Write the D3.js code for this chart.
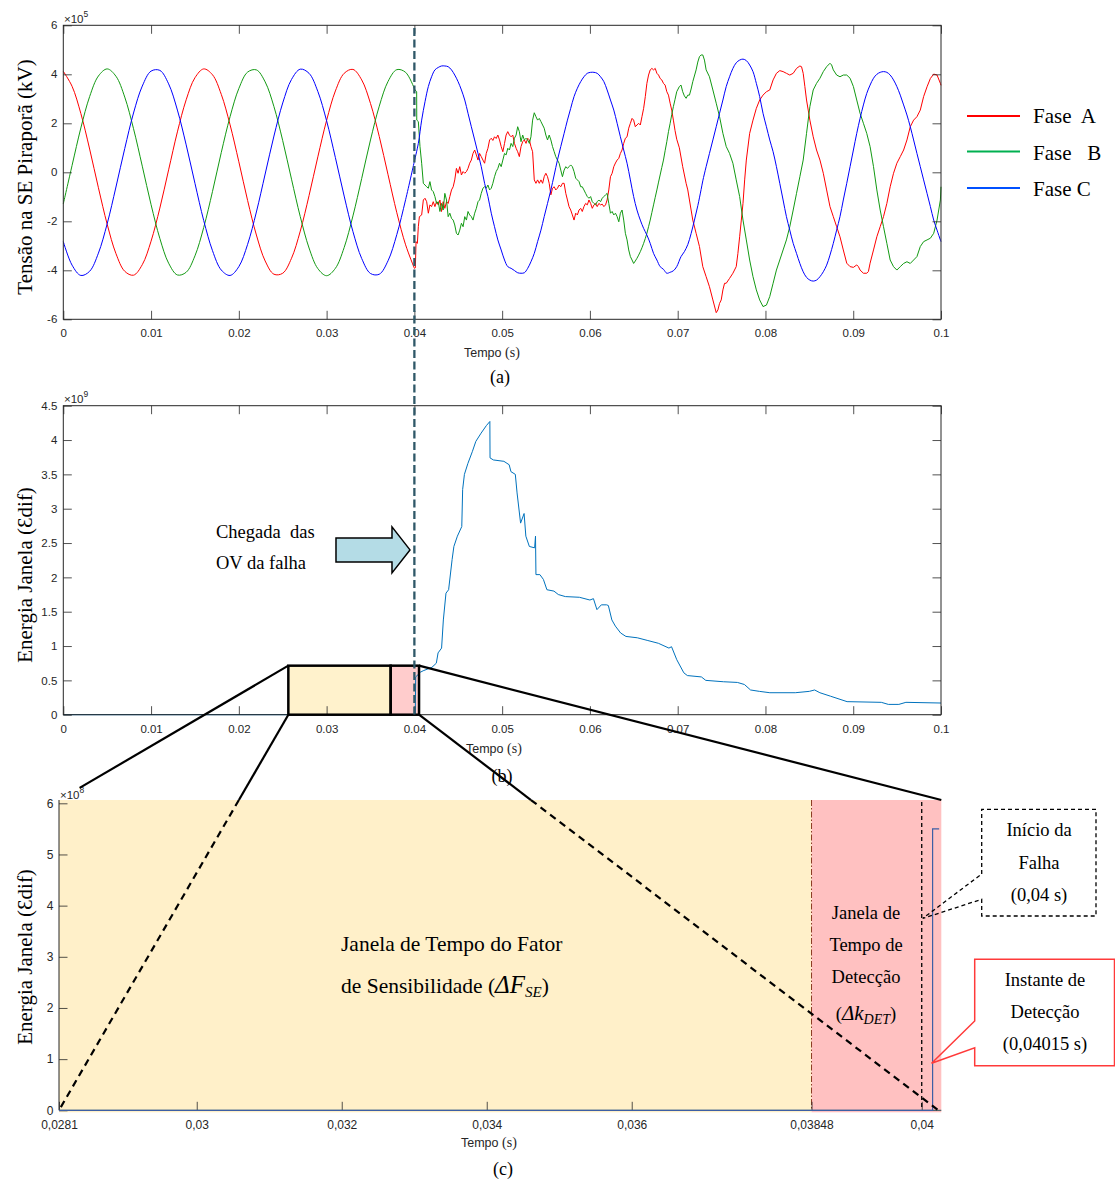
<!DOCTYPE html>
<html>
<head>
<meta charset="utf-8">
<script src="https://cdn.jsdelivr.net/npm/d3@7"></script>
<style>
  body { margin: 0; background: #fff; }
  svg { display: block; }
  text { white-space: pre; }
</style>
</head>
<body>
<svg id="fig" width="1115" height="1183"></svg>
<script>
// ---------- (a) Tensões de fase na SE Piraporã (×10^5) ----------
// regime pré-falta, amostras a cada 1 ms
const tempoPreMs = [0,1,2,3,4,5,6,7,8,9,10,11,12,13,14,15,16,17,18,19,20,21,22,23,24,25,26,27,28,29,30,31,32,33,34,35,36,37,38,39,40];
const faseAPre = [4.12,3.51,2.40,0.95,-0.63,-2.12,-3.32,-4.04,-4.20,-3.77,-2.81,-1.46,0.10,1.65,2.96,3.86,4.22,3.98,3.18,1.94,0.43,-1.15,-2.56,-3.62,-4.16,-4.12,-3.51,-2.40,-0.95,0.63,2.12,3.32,4.04,4.20,3.77,2.81,1.46,-0.10,-1.65,-2.96,-3.92];
const faseBPre = [-1.29,0.28,1.81,3.09,3.93,4.22,3.92,3.07,1.78,0.25,-1.32,-2.70,-3.71,-4.19,-4.08,-3.41,-2.25,-0.78,0.81,2.27,3.42,4.09,4.18,3.69,2.68,1.29,-0.28,-1.81,-3.09,-3.93,-4.22,-3.92,-3.07,-1.78,-0.25,1.32,2.70,3.71,4.19,4.08,3.41];
const faseCPre = [-2.83,-3.79,-4.21,-4.04,-3.30,-2.10,-0.60,0.97,2.42,3.52,4.13,4.16,3.61,2.54,1.12,-0.45,-1.97,-3.20,-3.99,-4.21,-3.85,-2.94,-1.62,-0.07,1.48,2.83,3.79,4.21,4.04,3.30,2.10,0.60,-0.97,-2.42,-3.52,-4.13,-4.16,-3.61,-2.54,-1.12,0.45];

// pós-falta: [tempo (s), tensão]
const faseAPos = [[0.04,-3.92],[0.04011,-3.9],[0.04019,-2.83],[0.04034,-2.9],[0.04045,-2.22],[0.04057,-1.81],[0.04083,-1.74],[0.04102,-1.13],[0.04121,-1.06],[0.0414,-1.2],[0.04159,-1.67],[0.04177,-1.33],[0.04196,-1.4],[0.04215,-1.2],[0.04234,-1.4],[0.04253,-1.2],[0.04272,-1.33],[0.04291,-1.13],[0.04309,-1.6],[0.04328,-1.2],[0.04347,-1.47],[0.04366,-1.2],[0.04385,-1.27],[0.04404,-0.99],[0.04423,-0.72],[0.04442,-0.59],[0.0446,-0.31],[0.04479,0.16],[0.04498,-0.04],[0.04517,0.23],[0.04536,-0.11],[0.04555,0.03],[0.04574,-0.04],[0.04593,0.03],[0.04611,0.16],[0.0463,0.37],[0.04649,0.5],[0.04668,0.77],[0.04687,0.91],[0.04706,0.71],[0.04725,0.5],[0.04743,0.77],[0.04762,0.64],[0.04781,0.5],[0.048,0.37],[0.04819,0.77],[0.04838,0.98],[0.04857,1.32],[0.04876,1.39],[0.04894,1.3],[0.04913,1.45],[0.04932,1.38],[0.04951,1.52],[0.0497,1.32],[0.04989,1.05],[0.05008,0.84],[0.05027,1.18],[0.05045,1.52],[0.05064,1.66],[0.05083,1.52],[0.05102,1.45],[0.05121,1.52],[0.0514,1.18],[0.05159,0.98],[0.05177,0.84],[0.05196,0.64],[0.05215,1.05],[0.05234,1.25],[0.05253,1.32],[0.05272,1.18],[0.05291,1.39],[0.0531,1.32],[0.05328,1.05],[0.05347,0.84],[0.05366,-0.31],[0.05385,-0.45],[0.05404,-0.31],[0.05423,-0.45],[0.05442,-0.31],[0.05461,-0.45],[0.05479,-0.18],[0.05498,-0.04],[0.05517,-0.18],[0.05536,-0.45],[0.05555,-0.92],[0.05574,-0.65],[0.05593,-0.59],[0.05611,-0.72],[0.0563,-0.65],[0.05649,-0.52],[0.05668,-0.59],[0.05687,-0.45],[0.05706,-0.45],[0.05725,-0.86],[0.05744,-1.13],[0.05762,-1.4],[0.05781,-1.54],[0.058,-1.74],[0.05819,-1.95],[0.05838,-1.67],[0.05857,-1.74],[0.05876,-1.54],[0.05895,-1.47],[0.05913,-1.6],[0.05932,-1.4],[0.05951,-1.27],[0.0597,-1.33],[0.05989,-1.13],[0.06008,-1.27],[0.06027,-1.47],[0.06046,-1.33],[0.06064,-1.27],[0.06083,-1.4],[0.06102,-1.27],[0.06121,-1.33],[0.0614,-1.3],[0.06159,-1.4],[0.06178,-1.33],[0.06196,-1.13],[0.06215,-0.72],[0.06234,-0.18],[0.06253,-0.04],[0.06272,0.23],[0.06291,0.38],[0.0631,0.5],[0.06329,0.57],[0.06347,0.77],[0.06366,0.91],[0.06385,1.18],[0.06404,1.39],[0.06423,1.45],[0.06442,1.8],[0.06461,2.0],[0.0648,2.2],[0.06498,2.13],[0.06517,1.86],[0.06536,1.93],[0.06555,2.0],[0.06574,1.93],[0.06593,2.27],[0.06612,2.61],[0.06631,3.09],[0.06649,3.63],[0.06668,3.97],[0.06687,4.18],[0.06706,4.24],[0.06725,4.18],[0.06744,4.24],[0.06763,4.04],[0.06782,3.97],[0.068,3.83],[0.06819,3.77],[0.06838,3.63],[0.06857,3.56],[0.06876,3.29],[0.06895,3.15],[0.06914,2.82],[0.06932,2.54],[0.06951,2.13],[0.0697,1.7],[0.06989,1.35],[0.07019,1.0],[0.07057,0.23],[0.07096,-0.45],[0.07115,-0.72],[0.07134,-1.13],[0.07153,-1.54],[0.07172,-1.95],[0.0721,-2.49],[0.07248,-3.03],[0.07286,-3.85],[0.07324,-4.26],[0.07362,-4.67],[0.07401,-5.21],[0.07439,-5.73],[0.07458,-5.62],[0.07477,-5.35],[0.07496,-5.21],[0.07515,-4.8],[0.07534,-4.53],[0.07553,-4.53],[0.07591,-4.33],[0.07629,-4.12],[0.07667,-3.85],[0.07686,-3.31],[0.07706,-2.63],[0.07725,-1.95],[0.07744,-1.27],[0.07763,-0.31],[0.07782,0.5],[0.0782,1.59],[0.07858,2.13],[0.07896,2.61],[0.07934,2.95],[0.07972,3.15],[0.08011,3.29],[0.08049,3.36],[0.08087,3.77],[0.08125,4.04],[0.08163,4.15],[0.08201,4.11],[0.08239,4.04],[0.08277,3.97],[0.08316,4.04],[0.08354,4.24],[0.08392,4.34],[0.08411,4.31],[0.0843,4.04],[0.08449,3.5],[0.08468,2.95],[0.08487,2.54],[0.08506,2.13],[0.08544,1.45],[0.08582,0.91],[0.08621,0.5],[0.08659,-0.04],[0.08697,-0.72],[0.08735,-1.4],[0.08773,-1.81],[0.08811,-2.22],[0.08849,-2.63],[0.08887,-3.17],[0.08926,-3.71],[0.08964,-3.85],[0.09002,-3.88],[0.0904,-3.78],[0.09059,-3.85],[0.09078,-3.99],[0.09116,-4.12],[0.09154,-4.12],[0.09173,-4.05],[0.09192,-3.71],[0.09231,-3.17],[0.09269,-2.63],[0.09307,-2.22],[0.09345,-1.81],[0.09383,-1.27],[0.09421,-0.59],[0.09459,-0.04],[0.09497,0.37],[0.09536,0.64],[0.09574,0.91],[0.09612,1.32],[0.0965,1.86],[0.09688,2.13],[0.09726,2.27],[0.09764,2.54],[0.09802,3.09],[0.09841,3.49],[0.09879,3.83],[0.09917,4.01],[0.09955,3.97],[0.09993,3.63],[0.1,3.55]];

const faseBPos = [[0.04,3.41],[0.04008,3.36],[0.04026,3.29],[0.04027,2.13],[0.04045,2.07],[0.04064,1.05],[0.04083,0.37],[0.04102,-0.45],[0.04121,-0.52],[0.0414,-0.59],[0.04159,-0.65],[0.04177,-0.38],[0.04196,-0.72],[0.04215,-0.79],[0.04234,-0.99],[0.04253,-1.27],[0.04272,-1.2],[0.04291,-1.6],[0.04309,-1.27],[0.04328,-1.54],[0.04347,-0.86],[0.04366,-1.13],[0.04385,-1.81],[0.04404,-1.67],[0.04423,-1.88],[0.04442,-1.95],[0.0446,-2.15],[0.04479,-2.49],[0.04498,-2.56],[0.04517,-2.36],[0.04536,-2.08],[0.04555,-2.22],[0.04574,-1.81],[0.04593,-1.95],[0.04611,-1.6],[0.0463,-1.74],[0.04649,-1.81],[0.04668,-1.95],[0.04687,-1.67],[0.04706,-1.47],[0.04725,-1.2],[0.04743,-1.13],[0.04762,-0.86],[0.04781,-0.65],[0.048,-0.59],[0.04819,-0.65],[0.04838,-0.52],[0.04857,-0.72],[0.04876,-0.65],[0.04894,-0.45],[0.04913,-0.18],[0.04932,0.03],[0.04951,0.16],[0.0497,0.37],[0.04989,0.23],[0.05008,0.5],[0.05027,0.77],[0.05045,0.71],[0.05064,0.98],[0.05083,0.91],[0.05102,1.18],[0.05121,1.05],[0.0514,1.39],[0.05159,1.52],[0.05177,1.86],[0.05196,1.66],[0.05215,1.25],[0.05234,1.52],[0.05253,1.32],[0.05272,1.39],[0.05291,1.32],[0.0531,1.18],[0.05328,1.45],[0.05347,2.13],[0.05366,2.43],[0.05385,2.27],[0.05404,2.13],[0.05423,2.2],[0.05442,2.07],[0.05461,1.93],[0.05479,1.8],[0.05498,1.52],[0.05517,1.32],[0.05536,1.52],[0.05555,1.32],[0.05574,1.05],[0.05593,0.84],[0.05611,0.64],[0.0563,0.5],[0.05649,0.37],[0.05668,0.09],[0.05687,-0.18],[0.05706,0.09],[0.05725,0.23],[0.05744,0.16],[0.05762,0.23],[0.05781,0.3],[0.058,0.23],[0.05819,0.03],[0.05838,-0.24],[0.05857,-0.31],[0.05876,-0.38],[0.05895,-0.59],[0.05913,-0.59],[0.05932,-0.72],[0.05951,-0.86],[0.0597,-0.99],[0.05989,-1.06],[0.06008,-0.99],[0.06027,-1.2],[0.06046,-1.27],[0.06064,-1.33],[0.06083,-1.2],[0.06102,-1.13],[0.06121,-1.2],[0.0614,-1.06],[0.06159,-0.99],[0.06178,-0.92],[0.06196,-0.86],[0.06215,-1.27],[0.06234,-1.67],[0.06253,-1.6],[0.06272,-1.74],[0.06291,-1.67],[0.0631,-1.81],[0.06329,-2.02],[0.06347,-1.67],[0.06366,-1.54],[0.06385,-1.95],[0.06404,-2.49],[0.06423,-2.76],[0.06442,-3.17],[0.06461,-3.44],[0.0648,-3.58],[0.06498,-3.72],[0.06517,-3.62],[0.06536,-3.51],[0.06555,-3.38],[0.06574,-3.24],[0.06593,-3.08],[0.06612,-2.9],[0.06631,-2.7],[0.06649,-2.49],[0.06668,-2.22],[0.06687,-1.95],[0.06706,-1.64],[0.06725,-1.33],[0.06744,-1.02],[0.06763,-0.72],[0.06782,-0.4],[0.068,-0.11],[0.06819,0.2],[0.06838,0.5],[0.06857,0.88],[0.06876,1.25],[0.06895,1.66],[0.06914,2.0],[0.06932,2.35],[0.06951,2.68],[0.0697,2.98],[0.06989,3.29],[0.07019,3.5],[0.07038,3.56],[0.07057,3.29],[0.07076,3.12],[0.07096,3.02],[0.07115,3.15],[0.07134,3.15],[0.07153,3.4],[0.07172,3.7],[0.0721,4.18],[0.07229,4.5],[0.07248,4.72],[0.07267,4.79],[0.07286,4.79],[0.07305,4.58],[0.07324,4.18],[0.07362,3.9],[0.07401,3.36],[0.07439,2.82],[0.07477,2.27],[0.07515,1.59],[0.07553,1.05],[0.07591,0.77],[0.07629,0.37],[0.07667,-0.31],[0.07706,-0.99],[0.07744,-1.95],[0.07782,-2.76],[0.0782,-3.58],[0.07858,-4.26],[0.07896,-4.8],[0.07934,-5.21],[0.07972,-5.48],[0.08011,-5.42],[0.08049,-5.07],[0.08087,-4.53],[0.08125,-3.99],[0.08163,-3.58],[0.08201,-3.17],[0.08239,-2.76],[0.08277,-2.22],[0.08316,-1.54],[0.08354,-0.86],[0.08392,-0.18],[0.0843,0.5],[0.08468,1.59],[0.08506,2.68],[0.08544,3.36],[0.08582,3.63],[0.08621,3.84],[0.08659,4.11],[0.08697,4.31],[0.08735,4.45],[0.08754,4.38],[0.08773,4.18],[0.08811,3.97],[0.08849,3.9],[0.08887,3.97],[0.08926,3.97],[0.08964,3.84],[0.09002,3.5],[0.0904,2.95],[0.09078,2.41],[0.09116,2.0],[0.09154,1.59],[0.09192,1.05],[0.09231,0.23],[0.09269,-0.72],[0.09307,-1.54],[0.09345,-2.22],[0.09383,-2.9],[0.09421,-3.58],[0.09459,-3.85],[0.09497,-3.99],[0.09536,-3.85],[0.09574,-3.72],[0.09612,-3.65],[0.0965,-3.72],[0.09688,-3.58],[0.09726,-3.44],[0.09764,-3.03],[0.09802,-2.83],[0.09841,-2.76],[0.09879,-2.69],[0.09917,-2.49],[0.09955,-1.95],[0.09993,-1.13],[0.1,-0.59]];

const faseCPos = [[0.04,0.45],[0.04045,1.18],[0.04083,2.13],[0.04121,2.88],[0.04159,3.5],[0.04196,3.9],[0.04234,4.18],[0.04272,4.28],[0.04309,4.34],[0.04347,4.34],[0.04385,4.31],[0.04423,4.18],[0.0446,3.97],[0.04498,3.7],[0.04536,3.36],[0.04574,2.95],[0.04611,2.41],[0.04649,1.86],[0.04687,1.32],[0.04725,0.77],[0.04762,0.23],[0.048,-0.45],[0.04838,-0.99],[0.04876,-1.67],[0.04913,-2.22],[0.04951,-2.76],[0.04989,-3.17],[0.05027,-3.58],[0.05064,-3.85],[0.05102,-3.92],[0.0514,-4.01],[0.05177,-4.1],[0.05215,-4.12],[0.05253,-4.1],[0.05291,-3.92],[0.05328,-3.65],[0.05366,-3.31],[0.05404,-2.83],[0.05442,-2.36],[0.05479,-1.81],[0.05517,-1.27],[0.05555,-0.72],[0.05593,-0.11],[0.0563,0.5],[0.05668,1.05],[0.05706,1.59],[0.05744,2.13],[0.05781,2.61],[0.05819,3.09],[0.05857,3.43],[0.05895,3.7],[0.05932,3.9],[0.0597,4.04],[0.06008,4.08],[0.06046,4.08],[0.06083,4.04],[0.06121,3.9],[0.06159,3.7],[0.06196,3.36],[0.06234,2.95],[0.06272,2.54],[0.0631,2.0],[0.06347,1.45],[0.06385,0.91],[0.06423,0.37],[0.06461,-0.31],[0.06498,-0.99],[0.06536,-1.54],[0.06574,-1.95],[0.06612,-2.29],[0.06649,-2.56],[0.06687,-2.9],[0.06725,-3.31],[0.06763,-3.58],[0.068,-3.85],[0.06838,-3.96],[0.06876,-4.12],[0.06914,-4.08],[0.06951,-4.02],[0.06989,-3.85],[0.07038,-3.44],[0.07076,-3.24],[0.07115,-2.95],[0.07153,-2.5],[0.07191,-1.95],[0.0723,-1.35],[0.07267,-0.7],[0.07286,-0.35],[0.07324,0.23],[0.07362,0.77],[0.07401,1.32],[0.07439,1.86],[0.07477,2.41],[0.07515,2.95],[0.07553,3.5],[0.07591,3.9],[0.07629,4.24],[0.07667,4.47],[0.07706,4.58],[0.07744,4.62],[0.07782,4.56],[0.0782,4.38],[0.07858,4.11],[0.07896,3.63],[0.07934,3.09],[0.07972,2.41],[0.08011,1.86],[0.08049,1.32],[0.08087,0.84],[0.08125,0.23],[0.08163,-0.45],[0.08201,-1.13],[0.08239,-1.81],[0.08277,-2.36],[0.08316,-2.9],[0.08354,-3.31],[0.08392,-3.72],[0.0843,-4.06],[0.08468,-4.29],[0.08506,-4.4],[0.08544,-4.44],[0.08582,-4.4],[0.08621,-4.26],[0.08659,-4.06],[0.08697,-3.79],[0.08735,-3.38],[0.08773,-2.9],[0.08811,-2.36],[0.08849,-1.81],[0.08887,-1.13],[0.08926,-0.45],[0.08964,0.23],[0.09002,0.91],[0.0904,1.59],[0.09078,2.2],[0.09116,2.75],[0.09154,3.22],[0.09192,3.56],[0.09231,3.84],[0.09269,4.0],[0.09307,4.08],[0.09345,4.11],[0.09383,4.08],[0.09421,3.97],[0.09459,3.77],[0.09497,3.5],[0.09536,3.15],[0.09574,2.75],[0.09612,2.34],[0.0965,1.86],[0.09688,1.32],[0.09726,0.77],[0.09764,0.23],[0.09802,-0.31],[0.09841,-0.86],[0.09879,-1.4],[0.09917,-1.95],[0.09955,-2.36],[0.09993,-2.76],[0.1,-2.83]];

// ---------- (b) Energia janela Ɛdif (×10^9): [tempo (s), energia] ----------
const energiaJanela = [[0,0],[0.0401,0],[0.04015,0.55],[0.0407,0.62],[0.041,0.64],[0.042,0.69],[0.0425,0.75],[0.0427,0.9],[0.0431,0.97],[0.0433,1.38],[0.0436,1.77],[0.0439,1.82],[0.0443,2.26],[0.0445,2.45],[0.0449,2.6],[0.0454,2.74],[0.0455,3.28],[0.0457,3.5],[0.0461,3.66],[0.0466,3.83],[0.047,3.98],[0.0476,4.1],[0.0482,4.21],[0.0486,4.27],[0.04862,3.74],[0.049,3.71],[0.0502,3.69],[0.0508,3.64],[0.051,3.54],[0.0515,3.5],[0.0517,3.23],[0.0521,2.79],[0.0525,2.93],[0.0527,2.6],[0.0531,2.45],[0.0537,2.43],[0.0538,2.6],[0.05385,2.04],[0.0543,2.04],[0.0547,1.97],[0.0551,1.82],[0.0559,1.8],[0.0564,1.75],[0.0572,1.72],[0.0588,1.71],[0.06,1.67],[0.0604,1.69],[0.0608,1.53],[0.0613,1.6],[0.0619,1.6],[0.0621,1.59],[0.0625,1.38],[0.0629,1.29],[0.0635,1.19],[0.0641,1.14],[0.0654,1.12],[0.0666,1.08],[0.0678,1.04],[0.069,0.97],[0.0693,0.99],[0.0699,0.8],[0.0707,0.61],[0.0711,0.57],[0.0727,0.55],[0.0732,0.5],[0.0752,0.48],[0.0768,0.47],[0.0776,0.44],[0.0783,0.36],[0.0793,0.34],[0.0805,0.32],[0.0834,0.32],[0.085,0.34],[0.0856,0.36],[0.0862,0.32],[0.0874,0.27],[0.0893,0.19],[0.0932,0.18],[0.094,0.15],[0.0952,0.15],[0.096,0.18],[0.1,0.17]];

// ---------- (c) detalhe da energia (×10^8) ----------
const energiaDetalhe = [[0.0281,0],[0.04015,0],[0.04015,5.5],[0.04024,5.5]];

// eixos
const ticksTempo = [0,0.01,0.02,0.03,0.04,0.05,0.06,0.07,0.08,0.09,0.1];
const ticksTensao = [-6,-4,-2,0,2,4,6];
const ticksEnergia = [0,0.5,1,1.5,2,2.5,3,3.5,4,4.5];
const ticksTempoC = [0.0281,0.03,0.032,0.034,0.036,0.03848,0.04];
const rotulosTempoC = ["0,0281","0,03","0,032","0,034","0,036","0,03848","0,04"];
const ticksEnergiaC = [0,1,2,3,4,5,6];

// janelas e instantes
const inicioFalha = 0.04;
const instanteDeteccao = 0.04015;
const inicioJanelaDet = 0.03848;

const fases = [
  { nome: "Fase  A", pre: faseAPre, pos: faseAPos, cor: "#ff0000", corLeg: "#ff0000", suave: false },
  { nome: "Fase   B", pre: faseBPre, pos: faseBPos, cor: "#139a13", corLeg: "#00b050", suave: false },
  { nome: "Fase C", pre: faseCPre, pos: faseCPos, cor: "#0000ff", corLeg: "#0050ff", suave: true }
];

// ---------- drawing ----------
const SANS = "'Liberation Sans', Arial, Helvetica, sans-serif";
const SERIF = "'Liberation Serif', 'Times New Roman', serif";
const AXC = "#262626";
const svg = d3.select("#fig");
svg.append("rect").attr("width", 1115).attr("height", 1183).attr("fill", "#fff");

function estilo(sel, fs) {
  sel.select(".domain").remove();
  sel.selectAll(".tick line").attr("stroke", AXC).attr("stroke-width", 0.8);
  sel.selectAll(".tick text").attr("fill", AXC).attr("font-family", SANS).attr("font-size", fs);
}

function eixos(xs, ys, o) {
  const [xl, xr] = xs.range(), [yb, yt] = ys.range();
  const g = svg.append("g");
  g.append("g").attr("transform", `translate(0,${yb})`)
    .call(d3.axisBottom(xs).tickValues(o.xt).tickFormat(o.fx).tickSize(-8.5).tickPadding(o.padX))
    .call(estilo, o.fs);
  g.append("g").attr("transform", `translate(${xl},0)`)
    .call(d3.axisLeft(ys).tickValues(o.yt).tickFormat(o.fy).tickSize(-8.5).tickPadding(o.padY))
    .call(estilo, o.fs);
  if (o.caixa) {
    g.append("g").attr("transform", `translate(0,${yt})`)
      .call(d3.axisTop(xs).tickValues(o.xt).tickFormat("").tickSize(-8.5)).call(estilo, o.fs);
    g.append("g").attr("transform", `translate(${xr},0)`)
      .call(d3.axisRight(ys).tickValues(o.yt).tickFormat("").tickSize(-8.5)).call(estilo, o.fs);
    g.append("rect").attr("x", xl).attr("y", yt).attr("width", xr - xl).attr("height", yb - yt)
      .attr("fill", "none").attr("stroke", AXC).attr("stroke-width", 1);
  }
  return g;
}

function expoente(x, y, e) {
  const t = svg.append("text").attr("x", x).attr("y", y).attr("font-family", SANS)
    .attr("font-size", 11.5).attr("fill", AXC);
  t.append("tspan").text("\u00d710");
  t.append("tspan").attr("dy", -6).attr("font-size", 8.5).text(e);
}

function tituloY(cx, cy, txt) {
  svg.append("text").attr("transform", `translate(${cx},${cy}) rotate(-90)`)
    .attr("text-anchor", "middle").attr("font-family", SERIF).attr("font-size", 21)
    .attr("fill", "#000").text(txt);
}

function tituloX(x, y) {
  const t = svg.append("text").attr("x", x).attr("y", y).attr("fill", AXC);
  t.append("tspan").attr("font-family", SANS).attr("font-size", 12.5).text("Tempo");
  t.append("tspan").attr("font-family", SERIF).attr("font-size", 14).text(" (s)");
}

function legenda(x, y, txt, size) {
  svg.append("text").attr("x", x).attr("y", y).attr("text-anchor", "middle")
    .attr("font-family", SERIF).attr("font-size", size || 18).attr("fill", "#000").text(txt);
}

// ===== Painel (a) =====
const xA = d3.scaleLinear().domain([0, 0.1]).range([63.3, 941]);
const yA = d3.scaleLinear().domain([-6, 6]).range([319.3, 25.3]);

const gA = svg.append("g");
const linhaSuave = d3.line().x(d => xA(d[0])).y(d => yA(d[1])).curve(d3.curveCatmullRom);
const linhaReta = d3.line().x(d => xA(d[0])).y(d => yA(d[1]));
fases.forEach(f => {
  const pre = tempoPreMs.map((ms, i) => [ms / 1000, f.pre[i]]);
  gA.append("path").attr("d", linhaSuave(pre)).attr("fill", "none")
    .attr("stroke", f.cor).attr("stroke-width", 1);
  gA.append("path").attr("d", (f.suave ? linhaSuave : linhaReta)(f.pos)).attr("fill", "none")
    .attr("stroke", f.cor).attr("stroke-width", 1).attr("stroke-linejoin", "round");
});

eixos(xA, yA, { xt: ticksTempo, yt: ticksTensao, fx: d => String(d), fy: d => String(d),
  padX: 9.5, padY: 6, fs: 11.5, caixa: true });
expoente(64, 23, "5");
tituloY(32, 177, "Tensão na SE Piraporã (kV)");
tituloX(464, 356.5);
legenda(500, 383, "(a)");

// legenda das fases
fases.forEach((f, i) => {
  const yl = [116, 151.5, 188][i];
  svg.append("line").attr("x1", 967).attr("x2", 1020).attr("y1", yl).attr("y2", yl)
    .attr("stroke", f.corLeg).attr("stroke-width", 2.2);
  svg.append("text").attr("x", 1033).attr("y", [123, 159.5, 196][i])
    .attr("font-family", SERIF).attr("font-size", 21).attr("fill", "#000").text(f.nome);
});

// ===== Painel (b) =====
const xB = d3.scaleLinear().domain([0, 0.1]).range([63.3, 941]);
const yB = d3.scaleLinear().domain([0, 4.5]).range([714.7, 405.7]);

// janela ampliada no painel (c)
const caixa = { t0: 0.02564, t1: 0.0373, t2: 0.04053, e: 0.714 };
const gB = svg.append("g");
gB.append("rect").attr("x", xB(caixa.t0)).attr("y", yB(caixa.e))
  .attr("width", xB(caixa.t1) - xB(caixa.t0)).attr("height", yB(0) - yB(caixa.e)).attr("fill", "#fff2cc");
gB.append("rect").attr("x", xB(caixa.t1)).attr("y", yB(caixa.e))
  .attr("width", xB(caixa.t2) - xB(caixa.t1)).attr("height", yB(0) - yB(caixa.e)).attr("fill", "#ffcccc");

eixos(xB, yB, { xt: ticksTempo, yt: ticksEnergia, fx: d => String(d), fy: d => String(d),
  padX: 10, padY: 6, fs: 11.5, caixa: true });

gB.append("path").attr("d", d3.line().x(d => xB(d[0])).y(d => yB(d[1]))(energiaJanela))
  .attr("fill", "none").attr("stroke", "#0072bd").attr("stroke-width", 1);
svg.append("g").selectAll("rect").data([[caixa.t0, caixa.t1], [caixa.t1, caixa.t2]]).join("rect")
  .attr("x", d => xB(d[0])).attr("y", yB(caixa.e))
  .attr("width", d => xB(d[1]) - xB(d[0])).attr("height", yB(0) - yB(caixa.e))
  .attr("fill", "none").attr("stroke", "#000").attr("stroke-width", 2.5);

expoente(64, 403, "9");
tituloY(32, 575, "Energia Janela (Ɛdif)");
tituloX(466, 753);
legenda(502, 782, "(b)");

// seta "Chegada das OV da falha"
const ponta = [xB(0.0395), yB(2.4)];
const seta = [[-74, -12], [-18, -12], [-18, -23], [0, 0], [-18, 23], [-18, 12], [-74, 12]]
  .map(p => [ponta[0] + p[0], ponta[1] + p[1]]);
svg.append("path").attr("d", d3.line()(seta) + "Z").attr("fill", "#b4dce6")
  .attr("stroke", "#000").attr("stroke-width", 1.5);
svg.append("text").attr("x", 216).attr("y", 537.5).attr("font-family", SERIF).attr("font-size", 18.5)
  .text("Chegada  das");
svg.append("text").attr("x", 216).attr("y", 569).attr("font-family", SERIF).attr("font-size", 18.5)
  .text("OV da falha");

// linha de início da falha, atravessando (a) e (b)
svg.append("line").attr("x1", xA(inicioFalha)).attr("x2", xA(inicioFalha))
  .attr("y1", 28).attr("y2", yB(0))
  .attr("stroke", "#2f5868").attr("stroke-width", 2.3).attr("stroke-dasharray", "8,3.5");

// ===== Painel (c) =====
const xC = d3.scaleLinear().domain([0.0281, 0.04027]).range([59, 941.3]);
const yC = d3.scaleLinear().domain([0, 6]).range([1110.3, 803.3]);
const topoC = 800, baseC = 1112.3;

svg.append("rect").attr("x", xC(0.0281)).attr("y", topoC)
  .attr("width", xC(inicioJanelaDet) - xC(0.0281)).attr("height", baseC - topoC).attr("fill", "#fff0c9");
svg.append("rect").attr("x", xC(inicioJanelaDet)).attr("y", topoC)
  .attr("width", xC.range()[1] - xC(inicioJanelaDet)).attr("height", baseC - topoC).attr("fill", "#ffc1c1");

svg.append("line").attr("x1", xC(inicioJanelaDet)).attr("x2", xC(inicioJanelaDet))
  .attr("y1", topoC).attr("y2", yC(0))
  .attr("stroke", "#8c3b22").attr("stroke-width", 1).attr("stroke-dasharray", "6,2,1.5,2");
svg.append("line").attr("x1", xC(inicioFalha)).attr("x2", xC(inicioFalha))
  .attr("y1", topoC + 2).attr("y2", yC(0))
  .attr("stroke", "#000").attr("stroke-width", 1.3).attr("stroke-dasharray", "4,3");

eixos(xC, yC, { xt: ticksTempoC, yt: ticksEnergiaC, fx: (d, i) => rotulosTempoC[i], fy: d => String(d),
  padX: 10.5, padY: 5.7, fs: 12, caixa: false });
svg.append("line").attr("x1", xC(0.0281)).attr("x2", xC(0.0281)).attr("y1", topoC).attr("y2", yC(0))
  .attr("stroke", AXC).attr("stroke-width", 1);
svg.append("line").attr("x1", xC(0.0281)).attr("x2", xC.range()[1]).attr("y1", yC(0)).attr("y2", yC(0))
  .attr("stroke", "#2a4f55").attr("stroke-width", 1);

svg.append("path").attr("d", d3.line().x(d => xC(d[0])).y(d => yC(d[1]))(energiaDetalhe))
  .attr("fill", "none").attr("stroke", "#3d5fa5").attr("stroke-width", 1.2);

expoente(60, 799, "8");
tituloY(32, 957, "Energia Janela (Ɛdif)");
tituloX(461, 1147);
legenda(503, 1175, "(c)");

// textos das janelas
const tF1 = svg.append("text").attr("x", 341).attr("y", 950.5).attr("font-family", SERIF).attr("font-size", 21.5);
tF1.text("Janela de Tempo do Fator");
const tF2 = svg.append("text").attr("x", 341).attr("y", 993).attr("font-family", SERIF).attr("font-size", 21.5);
tF2.append("tspan").text("de Sensibilidade (");
tF2.append("tspan").attr("font-style", "italic").attr("font-size", 25).text("ΔF");
tF2.append("tspan").attr("font-style", "italic").attr("font-size", 15).attr("dy", 4).text("SE");
tF2.append("tspan").attr("dy", -4).text(")");

const cxDet = 866;
[["Janela de", 919], ["Tempo de", 950.5], ["Detecção", 982.5]].forEach(([s, y]) =>
  legenda(cxDet, y, s, 18.5));
const tD = svg.append("text").attr("x", cxDet).attr("y", 1020).attr("text-anchor", "middle")
  .attr("font-family", SERIF).attr("font-size", 18.5);
tD.append("tspan").text("(");
tD.append("tspan").attr("font-style", "italic").attr("font-size", 21).text("Δk");
tD.append("tspan").attr("font-style", "italic").attr("font-size", 14).attr("dy", 4).text("DET");
tD.append("tspan").attr("dy", -4).text(")");

// balão "Início da Falha"
const pontaF = [xC(inicioFalha) + 1, yC(3.75)];
svg.append("path")
  .attr("d", d3.line()([[981.7, 874], [981.7, 809.3], [1096, 809.3], [1096, 916], [981.7, 916], [981.7, 899.3], pontaF]) + "Z")
  .attr("fill", "none").attr("stroke", "#000").attr("stroke-width", 1.3).attr("stroke-dasharray", "4,3");
[["Início da", 836], ["Falha", 868.5], ["(0,04 s)", 900.5]].forEach(([s, y]) => legenda(1039, y, s, 18.5));

// balão "Instante de Detecção"
const pontaD = [xC(instanteDeteccao) - 1, yC(0.92)];
svg.append("path")
  .attr("d", d3.line()([[974.7, 1021], [974.7, 959.3], [1114.5, 959.3], [1114.5, 1065.7], [974.7, 1065.7], [974.7, 1047.7], pontaD]) + "Z")
  .attr("fill", "none").attr("stroke", "#ff3a3a").attr("stroke-width", 1.5);
[["Instante de", 986], ["Detecção", 1018], ["(0,04015 s)", 1049.5]].forEach(([s, y]) => legenda(1045, y, s, 18.5));

// ===== linhas de ampliação (b) -> (c) =====
function ampliacao(p, q, parcial) {
  const qq = parcial ? [p[0] + (q[0] - p[0]) * parcial, p[1] + (q[1] - p[1]) * parcial] : q;
  if (qq[1] <= topoC) {
    svg.append("line").attr("x1", p[0]).attr("y1", p[1]).attr("x2", qq[0]).attr("y2", qq[1])
      .attr("stroke", "#000").attr("stroke-width", 2.2);
    return;
  }
  const f = (topoC - p[1]) / (qq[1] - p[1]);
  const m = [p[0] + (qq[0] - p[0]) * f, topoC];
  svg.append("line").attr("x1", p[0]).attr("y1", p[1]).attr("x2", m[0]).attr("y2", m[1])
    .attr("stroke", "#000").attr("stroke-width", 2.2);
  svg.append("line").attr("x1", m[0]).attr("y1", m[1]).attr("x2", qq[0]).attr("y2", qq[1])
    .attr("stroke", "#000").attr("stroke-width", 2.2).attr("stroke-dasharray", "7,5");
}
ampliacao([xB(caixa.t0), yB(caixa.e)], [xC(0.0281), topoC], 0.91);
ampliacao([xB(caixa.t0), yB(0)], [xC(0.0281), yC(0)]);
ampliacao([xB(caixa.t2), yB(caixa.e)], [xC.range()[1], topoC]);
ampliacao([xB(caixa.t2), yB(0)], [xC.range()[1] - 3, yC(0)]);
</script>
</body>
</html>
